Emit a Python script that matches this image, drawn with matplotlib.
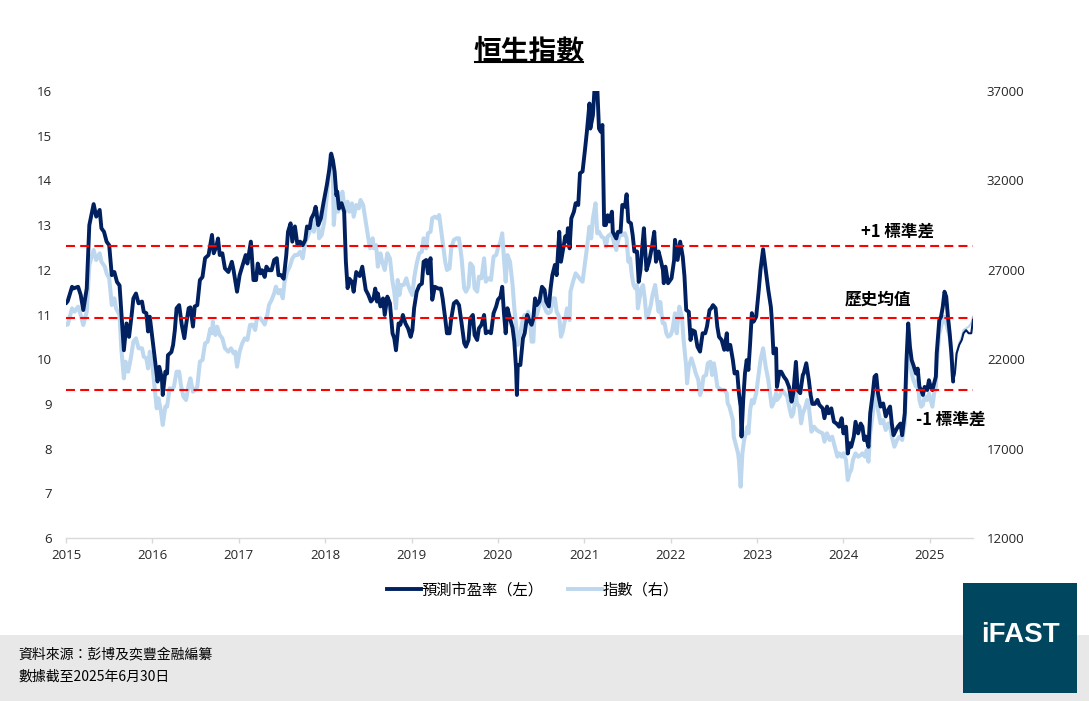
import numpy as np
import matplotlib
matplotlib.use("Agg")
import matplotlib.pyplot as plt
from matplotlib.lines import Line2D
from matplotlib.patches import Rectangle

# ---------------- data ----------------
title = "恒生指數"
pe_label = "預測市盈率（左）"
idx_label = "指數（右）"
source_text = "資料來源：彭博及奕豐金融編纂"
date_text = "數據截至2025年6月30日"
band_labels = ["+1 標準差", "歷史均值", "-1 標準差"]
band_levels = [12.53, 10.93, 9.32]

year_ticks = list(range(2015, 2026))
left_ticks = list(range(6, 17))
right_ticks = [12000, 17000, 22000, 27000, 32000, 37000]

# years elapsed since start of 2015
pe_t = [0.00, 0.02, 0.07, 0.08, 0.14, 0.17, 0.20, 0.24, 0.27, 0.32, 0.35, 0.39, 0.41, 0.44, 0.47, 0.50,
        0.53, 0.56, 0.59, 0.62, 0.64, 0.67, 0.70, 0.73, 0.76, 0.78, 0.81, 0.84, 0.88, 0.90, 0.93, 0.95,
        0.97, 1.00, 1.04, 1.06, 1.08, 1.11, 1.12, 1.15, 1.17, 1.18, 1.22, 1.24, 1.26, 1.28, 1.31, 1.34,
        1.37, 1.39, 1.42, 1.44, 1.47, 1.49, 1.52, 1.55, 1.58, 1.61, 1.65, 1.69, 1.71, 1.74, 1.76, 1.78,
        1.81, 1.84, 1.88, 1.92, 1.94, 1.98, 2.01, 2.05, 2.08, 2.10, 2.14, 2.17, 2.20, 2.22, 2.25, 2.27,
        2.30, 2.32, 2.35, 2.38, 2.41, 2.44, 2.46, 2.49, 2.52, 2.55, 2.57, 2.60, 2.62, 2.65, 2.68, 2.71,
        2.74, 2.77, 2.79, 2.82, 2.84, 2.87, 2.89, 2.92, 2.95, 2.98, 3.02, 3.05, 3.07, 3.09, 3.11, 3.13,
        3.14, 3.16, 3.19, 3.22, 3.24, 3.26, 3.28, 3.31, 3.33, 3.36, 3.40, 3.43, 3.46, 3.47, 3.50, 3.53,
        3.56, 3.58, 3.60, 3.61, 3.64, 3.67, 3.69, 3.72, 3.75, 3.78, 3.80, 3.82, 3.85, 3.87, 3.90, 3.93,
        3.96, 3.99, 4.01, 4.03, 4.06, 4.09, 4.12, 4.14, 4.17, 4.19, 4.22, 4.24, 4.27, 4.31, 4.34, 4.36,
        4.39, 4.41, 4.44, 4.46, 4.49, 4.52, 4.55, 4.58, 4.61, 4.63, 4.66, 4.68, 4.71, 4.73, 4.76, 4.78,
        4.81, 4.84, 4.86, 4.89, 4.92, 4.95, 4.98, 5.00, 5.03, 5.05, 5.07, 5.09, 5.11, 5.14, 5.17, 5.19,
        5.21, 5.22, 5.23, 5.26, 5.29, 5.31, 5.34, 5.36, 5.39, 5.41, 5.43, 5.45, 5.48, 5.51, 5.54, 5.56,
        5.59, 5.61, 5.63, 5.66, 5.68, 5.71, 5.73, 5.75, 5.78, 5.80, 5.81, 5.83, 5.85, 5.88, 5.90, 5.93,
        5.95, 5.98, 6.01, 6.03, 6.06, 6.07, 6.10, 6.12, 6.15, 6.17, 6.19, 6.21, 6.23, 6.25, 6.27, 6.29,
        6.32, 6.33, 6.37, 6.39, 6.42, 6.44, 6.47, 6.49, 6.51, 6.54, 6.56, 6.58, 6.61, 6.63, 6.65, 6.67,
        6.69, 6.72, 6.75, 6.78, 6.81, 6.83, 6.86, 6.88, 6.91, 6.92, 6.94, 6.97, 7.01, 7.04, 7.05, 7.08,
        7.11, 7.14, 7.16, 7.18, 7.21, 7.23, 7.25, 7.28, 7.31, 7.34, 7.37, 7.40, 7.42, 7.45, 7.47, 7.49,
        7.52, 7.54, 7.56, 7.59, 7.62, 7.65, 7.66, 7.69, 7.72, 7.74, 7.77, 7.79, 7.81, 7.82, 7.84, 7.86,
        7.88, 7.90, 7.92, 7.94, 7.96, 7.99, 8.02, 8.04, 8.07, 8.10, 8.13, 8.16, 8.17, 8.19, 8.22, 8.23,
        8.26, 8.28, 8.31, 8.34, 8.37, 8.40, 8.42, 8.45, 8.47, 8.50, 8.53, 8.54, 8.57, 8.60, 8.62, 8.64,
        8.67, 8.70, 8.72, 8.76, 8.78, 8.81, 8.83, 8.86, 8.89, 8.92, 8.95, 8.98, 9.00, 9.03, 9.05, 9.07,
        9.09, 9.12, 9.14, 9.17, 9.20, 9.22, 9.24, 9.26, 9.29, 9.31, 9.34, 9.36, 9.38, 9.40, 9.43, 9.46,
        9.49, 9.52, 9.54, 9.56, 9.58, 9.61, 9.63, 9.66, 9.68, 9.71, 9.73, 9.75, 9.77, 9.79, 9.81, 9.84,
        9.86, 9.88, 9.90, 9.92, 9.94, 9.97, 9.99, 10.01, 10.03, 10.05, 10.07, 10.08, 10.11, 10.13, 10.15,
        10.17, 10.19, 10.21, 10.23, 10.25, 10.27, 10.29, 10.31, 10.34, 10.37, 10.39, 10.42, 10.45, 10.48,
        10.50]
pe_values = [11.25, 11.30, 11.62, 11.58, 11.62, 11.44, 11.10, 11.58, 13.00, 13.47, 13.19, 13.34, 12.93, 12.85, 12.63, 12.55,
             11.88, 11.95, 11.73, 11.65, 11.06, 10.20, 10.80, 10.50, 10.99, 11.36, 11.47, 11.25, 11.29, 11.06, 11.03, 10.62,
             10.95, 10.47, 9.83, 9.50, 9.83, 9.57, 9.20, 9.72, 9.68, 10.09, 10.16, 10.32, 10.65, 11.14, 11.21, 10.77,
             10.47, 10.77, 11.14, 11.16, 10.73, 11.18, 11.21, 11.77, 11.84, 12.26, 12.33, 12.78, 12.37, 12.52, 12.70, 12.33,
             12.37, 12.03, 11.95, 12.18, 11.99, 11.51, 11.88, 12.14, 12.33, 12.14, 12.63, 11.77, 11.77, 12.14, 11.92, 11.99,
             11.84, 12.07, 11.99, 11.99, 12.22, 12.26, 11.88, 11.88, 11.80, 12.33, 12.85, 13.04, 12.63, 12.97, 12.55, 12.63,
             12.55, 12.67, 12.97, 12.93, 13.15, 13.26, 13.41, 13.00, 13.15, 13.49, 13.90, 14.27, 14.60, 14.45, 14.19, 13.67,
             13.75, 13.37, 13.49, 13.30, 12.18, 11.59, 11.80, 11.73, 11.51, 11.95, 11.86, 12.07, 11.69, 11.55, 11.44, 11.29,
             11.36, 11.58, 11.29, 11.47, 11.18, 11.36, 10.99, 11.40, 11.25, 10.58, 10.47, 10.20, 10.80, 10.77, 10.99, 10.80,
             10.69, 10.50, 10.65, 11.14, 11.51, 11.65, 11.69, 12.18, 12.22, 11.92, 12.26, 11.33, 11.62, 11.58, 11.58, 11.36,
             10.91, 10.58, 10.58, 10.91, 11.25, 11.30, 11.21, 10.80, 10.36, 10.28, 10.43, 10.91, 10.99, 10.54, 10.43, 10.69,
             10.77, 10.99, 10.58, 10.62, 10.58, 11.03, 11.18, 11.33, 11.40, 11.62, 11.03, 10.58, 11.14, 10.91, 10.70, 10.39,
             9.80, 9.20, 9.87, 9.87, 10.47, 10.58, 10.99, 10.88, 10.77, 10.91, 11.36, 11.21, 11.29, 11.62, 11.55, 11.29,
             11.18, 11.58, 11.88, 12.11, 11.88, 12.85, 12.18, 12.41, 12.75, 12.63, 12.93, 12.48, 13.15, 13.30, 13.49, 13.45,
             14.16, 14.20, 14.72, 15.09, 15.72, 15.16, 15.46, 16.10, 16.10, 15.16, 15.09, 15.24, 13.00, 13.00, 13.22, 13.08,
             13.30, 12.85, 12.70, 12.85, 12.85, 13.45, 13.41, 13.69, 13.08, 13.04, 12.78, 12.41, 12.41, 11.73, 11.99, 12.48,
             12.93, 11.99, 12.18, 12.48, 12.85, 12.18, 12.41, 12.26, 12.00, 11.70, 12.07, 11.70, 11.81, 12.22, 12.67, 12.22,
             12.63, 12.29, 11.85, 11.10, 11.06, 10.43, 10.65, 10.62, 10.28, 10.17, 10.58, 10.58, 10.73, 11.10, 11.14, 11.21,
             11.14, 10.73, 10.50, 10.43, 10.21, 10.58, 10.21, 10.32, 9.98, 9.68, 9.72, 9.24, 8.94, 8.27, 9.09, 9.68,
             9.98, 9.76, 10.36, 11.03, 10.84, 10.95, 11.55, 12.00, 12.46, 12.00, 11.55, 11.17, 10.91, 10.13, 10.24, 9.38,
             9.72, 9.72, 9.61, 9.53, 9.38, 9.05, 9.24, 9.94, 9.31, 9.24, 9.65, 9.68, 9.91, 9.53, 9.20, 9.00,
             9.00, 9.09, 8.98, 8.90, 8.68, 8.94, 8.79, 8.90, 8.60, 8.56, 8.49, 8.68, 8.34, 8.49, 7.89, 8.12,
             8.04, 8.27, 8.60, 8.34, 8.56, 8.49, 8.19, 8.27, 8.04, 8.79, 9.24, 9.61, 9.65, 9.24, 8.94, 9.01,
             8.72, 8.87, 8.94, 8.56, 8.30, 8.42, 8.49, 8.56, 8.30, 8.79, 9.98, 10.80, 10.28, 9.98, 9.87, 9.68,
             9.79, 9.38, 9.31, 9.20, 9.38, 9.31, 9.53, 9.38, 9.31, 9.46, 9.61, 10.13, 10.88, 10.95, 11.17,
             11.51, 11.40, 10.95, 10.58, 10.13, 9.50, 9.68, 10.13, 10.32, 10.43, 10.58, 10.65, 10.58, 10.58,
             10.88]

idx_t = [0.00, 0.02, 0.07, 0.10, 0.14, 0.17, 0.20, 0.24, 0.27, 0.32, 0.35, 0.39, 0.41, 0.45, 0.47, 0.50,
         0.53, 0.56, 0.58, 0.62, 0.64, 0.67, 0.69, 0.72, 0.75, 0.78, 0.81, 0.84, 0.88, 0.90, 0.93, 0.95,
         0.97, 1.00, 1.03, 1.05, 1.07, 1.10, 1.12, 1.15, 1.17, 1.20, 1.22, 1.25, 1.28, 1.31, 1.33, 1.36,
         1.39, 1.42, 1.44, 1.47, 1.49, 1.52, 1.55, 1.58, 1.61, 1.64, 1.67, 1.69, 1.70, 1.71, 1.73, 1.75,
         1.78, 1.81, 1.84, 1.88, 1.91, 1.94, 1.96, 1.98, 2.01, 2.04, 2.07, 2.10, 2.13, 2.16, 2.19, 2.21,
         2.25, 2.28, 2.30, 2.33, 2.35, 2.38, 2.41, 2.43, 2.46, 2.48, 2.51, 2.53, 2.56, 2.59, 2.62, 2.65,
         2.68, 2.71, 2.74, 2.77, 2.79, 2.82, 2.84, 2.87, 2.89, 2.91, 2.93, 2.96, 2.99, 3.02, 3.05, 3.06,
         3.09, 3.10, 3.13, 3.15, 3.18, 3.20, 3.23, 3.26, 3.28, 3.31, 3.33, 3.36, 3.39, 3.41, 3.44, 3.47,
         3.50, 3.52, 3.55, 3.56, 3.59, 3.61, 3.64, 3.66, 3.69, 3.72, 3.75, 3.78, 3.80, 3.82, 3.84, 3.86,
         3.88, 3.91, 3.94, 3.96, 3.99, 4.01, 4.03, 4.06, 4.09, 4.12, 4.14, 4.17, 4.19, 4.22, 4.24, 4.27,
         4.30, 4.32, 4.34, 4.36, 4.39, 4.41, 4.44, 4.46, 4.49, 4.52, 4.55, 4.58, 4.61, 4.63, 4.66, 4.68,
         4.71, 4.73, 4.76, 4.78, 4.81, 4.84, 4.86, 4.89, 4.92, 4.95, 4.98, 5.00, 5.03, 5.05, 5.07, 5.09,
         5.11, 5.14, 5.17, 5.19, 5.21, 5.23, 5.25, 5.26, 5.29, 5.31, 5.33, 5.35, 5.37, 5.39, 5.41, 5.43,
         5.45, 5.48, 5.51, 5.53, 5.56, 5.58, 5.61, 5.64, 5.66, 5.68, 5.71, 5.73, 5.75, 5.78, 5.80, 5.83,
         5.84, 5.87, 5.90, 5.93, 5.96, 5.98, 6.01, 6.03, 6.06, 6.08, 6.10, 6.13, 6.15, 6.17, 6.20, 6.23,
         6.25, 6.27, 6.29, 6.32, 6.34, 6.37, 6.39, 6.42, 6.44, 6.47, 6.49, 6.51, 6.53, 6.55, 6.57, 6.59,
         6.61, 6.62, 6.64, 6.66, 6.68, 6.70, 6.72, 6.74, 6.77, 6.79, 6.82, 6.84, 6.86, 6.88, 6.90, 6.91,
         6.93, 6.95, 6.97, 7.00, 7.02, 7.05, 7.07, 7.10, 7.13, 7.15, 7.18, 7.19, 7.21, 7.24, 7.27, 7.29,
         7.32, 7.34, 7.36, 7.38, 7.41, 7.43, 7.46, 7.48, 7.50, 7.52, 7.54, 7.56, 7.59, 7.62, 7.65, 7.66,
         7.68, 7.72, 7.73, 7.75, 7.78, 7.79, 7.81, 7.83, 7.85, 7.87, 7.89, 7.90, 7.92, 7.94, 7.96, 7.99,
         8.02, 8.04, 8.07, 8.10, 8.13, 8.15, 8.17, 8.19, 8.22, 8.23, 8.26, 8.29, 8.32, 8.35, 8.38, 8.40,
         8.42, 8.45, 8.46, 8.49, 8.51, 8.53, 8.56, 8.58, 8.60, 8.63, 8.66, 8.69, 8.72, 8.76, 8.78, 8.81,
         8.84, 8.87, 8.90, 8.93, 8.95, 8.98, 9.00, 9.03, 9.05, 9.07, 9.09, 9.11, 9.14, 9.17, 9.20, 9.22,
         9.25, 9.27, 9.29, 9.31, 9.34, 9.36, 9.38, 9.40, 9.43, 9.46, 9.49, 9.52, 9.54, 9.57, 9.59, 9.62,
         9.65, 9.68, 9.71, 9.73, 9.75, 9.77, 9.79, 9.81, 9.84, 9.86, 9.88, 9.90, 9.92, 9.94, 9.97, 9.99,
         10.01, 10.03, 10.05, 10.07, 10.08, 10.11, 10.13, 10.15, 10.17, 10.19, 10.21, 10.23, 10.25, 10.27,
         10.29, 10.31, 10.34, 10.37, 10.39, 10.42, 10.45, 10.48, 10.50]
idx_values = [23912, 23940, 24844, 24657, 24937, 24472, 23912, 24657, 27268, 28107, 27548, 27921, 27454, 27175, 26803, 26524,
              25031, 25404, 24844, 24472, 22609, 20931, 21860, 21301, 22049, 22980, 23167, 22609, 22609, 22142, 22049, 21488,
              22420, 21675, 20185, 19253, 19812, 19066, 18320, 19346, 19346, 20372, 20278, 20465, 21301, 21301, 20557, 19904,
              19719, 20557, 20931, 20185, 20278, 20465, 21860, 21954, 22886, 22980, 23700, 23448, 24098, 23727, 23353, 23819,
              23353, 23167, 22609, 22420, 22609, 22329, 22420, 21581, 22420, 22886, 23167, 23074, 23912, 23940, 23633, 24285,
              24285, 24098, 23940, 24472, 25031, 25311, 25684, 26057, 25684, 25870, 25404, 26335, 26894, 27175, 27642, 27828,
              27828, 28013, 27642, 28573, 28762, 29130, 29506, 29130, 29880, 30249, 28762, 28946, 29690, 31183, 32677, 33420,
              32302, 29506, 31368, 30249, 30999, 31368, 30249, 30808, 30249, 30716, 29970, 30624, 30435, 30904, 30624, 29690,
              28762, 28202, 28762, 28202, 28387, 27175, 27921, 27454, 26989, 27921, 27642, 26335, 25777, 24844, 26429, 25591,
              26150, 26150, 26524, 26150, 25777, 25591, 26524, 27361, 27921, 28013, 28762, 28202, 29040, 29130, 29880, 29970,
              29880, 30065, 29319, 28573, 27454, 26989, 27082, 28202, 28669, 28762, 28762, 27642, 25965, 25777, 26057, 27361,
              27175, 25965, 25777, 26614, 26524, 27642, 26335, 26524, 26429, 27735, 27828, 28202, 28573, 29040, 27642, 26335,
              27828, 27454, 26150, 24844, 23912, 22794, 23448, 23448, 24285, 24472, 24285, 24657, 24285, 22980, 22980, 25217,
              24472, 25031, 25777, 25031, 24657, 24565, 24657, 25404, 25404, 24657, 24378, 23261, 23541, 24285, 24844, 24192,
              25777, 26335, 26803, 26614, 26429, 26335, 27454, 28202, 29410, 28762, 29880, 30719, 29040, 29130, 28855, 28762,
              28295, 28855, 28946, 29040, 28573, 28107, 28573, 29130, 28946, 29040, 28762, 27454, 27642, 26709, 26150, 25965,
              26150, 24844, 25404, 25965, 26150, 25404, 24285, 24472, 25031, 25591, 26150, 25404, 24657, 25200, 24240, 24004,
              24004, 23448, 23258, 23353, 23633, 24567, 23448, 24937, 24377, 23074, 21581, 20652, 21581, 22049, 21581, 21211,
              20836, 19997, 20278, 21022, 21116, 21770, 21860, 21116, 21770, 21211, 20462, 20372, 20278, 20278, 20092, 19533,
              19346, 18600, 17666, 17296, 16737, 16362, 14869, 16737, 17481, 17855, 18225, 17855, 19158, 19718, 19533, 20092,
              21211, 21955, 22609, 21581, 20836, 20092, 19346, 19533, 20092, 19718, 19904, 20278, 20092, 19904, 19158, 18785,
              18971, 20092, 19533, 19346, 18414, 18971, 19346, 19718, 19346, 17948, 18225, 18040, 17948, 17855, 17386, 17855,
              17481, 17666, 17106, 16547, 16737, 16547, 16737, 16362, 15244, 15618, 15803, 16362, 16737, 16547, 16640, 16737,
              16547, 16921, 16268, 17855, 18974, 19904, 20092, 19158, 18414, 18600, 18040, 18414, 18225, 17481, 17106, 17481,
              17666, 17481, 18414, 21211, 22700, 21955, 21211, 20836, 20462, 20836, 19718, 19346, 19440, 19904, 19718, 20092,
              19718, 19346, 20092, 20462, 21770, 23448, 23819, 24192, 24377, 24007, 23633, 23258, 22328, 20836,
              21211, 22328, 22887, 23258, 23633, 23726, 23819, 24007, 24377]

# ---------------- style ----------------
DARK = "#002060"
LIGHT = "#BDD7EE"
RED = "#FF0000"
TICK_COL = "#262626"
CJK = ["Noto Sans CJK TC", "DejaVu Sans"]
NUM = ["Open Sans", "DejaVu Sans"]

W, H = 1089, 701
fig = plt.figure(figsize=(W / 100, H / 100), dpi=100)
fig.patch.set_facecolor("white")

def fx(px):
    return px / W

def fy(py):
    return 1 - py / H

ax_l, ax_r, ax_t, ax_b = 66, 973, 91, 538
ax = fig.add_axes([fx(ax_l), fy(ax_b), fx(ax_r - ax_l), (ax_b - ax_t) / H])
ax2 = ax.twinx()

pe_x = 2015 + np.array(pe_t)
pe_y = np.array(pe_values)
ix_x = 2015 + np.array(idx_t)
ix_y = np.array(idx_values)

split = 10.27
pm = np.array(pe_t) <= split + 1e-9
im = np.array(idx_t) <= split + 1e-9
pk = np.array(pe_t) >= split - 1e-9
ik = np.array(idx_t) >= split - 1e-9

# index (right axis)
ax2.plot(ix_x[im], ix_y[im], color=LIGHT, lw=2.9, solid_joinstyle="round", solid_capstyle="round")
ax2.plot(ix_x[ik], ix_y[ik], color=LIGHT, lw=1.5, solid_joinstyle="round")
# PE (left axis)
ax.plot(pe_x[pm], pe_y[pm], color=DARK, lw=2.8, solid_joinstyle="round", solid_capstyle="round", zorder=3)
ax.plot(pe_x[pk], pe_y[pk], color=DARK, lw=1.5, solid_joinstyle="round", zorder=3)

for lvl in band_levels:
    ax.axhline(lvl, color=RED, lw=1.5, linestyle=(0, (4.3, 2.5)), zorder=4)

ax.set_zorder(ax2.get_zorder() + 1)
ax.patch.set_visible(False)

ax.set_xlim(2015, 2025.5)
ax.set_ylim(6, 16)
ax2.set_ylim(12000, 37000)

ax.set_xticks(year_ticks)
ax.set_xticklabels([str(y) for y in year_ticks])
ax.set_yticks(left_ticks)
ax.set_yticklabels([str(v) for v in left_ticks])
ax2.set_yticks(right_ticks)
ax2.set_yticklabels([str(v) for v in right_ticks])

for a in (ax, ax2):
    for s in a.spines.values():
        s.set_visible(False)
ax.spines["bottom"].set_visible(True)
ax.spines["bottom"].set_color("#D9D9D9")
ax.spines["bottom"].set_linewidth(1.0)

ax.tick_params(axis="x", direction="out", length=3.6, width=1.0, color="#D9D9D9",
               pad=4, labelsize=9.5, labelcolor=TICK_COL)
ax.tick_params(axis="y", length=0, pad=10, labelsize=9.5, labelcolor=TICK_COL)
ax2.tick_params(axis="y", length=0, pad=10, labelsize=9.5, labelcolor=TICK_COL)
for lab in ax.get_xticklabels() + ax.get_yticklabels() + ax2.get_yticklabels():
    lab.set_family(NUM)

# band annotations
ann_pos = [(898, 232), (878, 300), (951, 420)]
for txt, (px, py) in zip(band_labels, ann_pos):
    fig.text(fx(px), fy(py), txt, ha="center", va="center", fontsize=12,
             fontweight="bold", family=CJK, color="black")

# title with underline
t = fig.text(fx(529), fy(59.5), title, ha="center", va="baseline", fontsize=20,
             fontweight="bold", family=CJK, color="black")
fig.canvas.draw()
bb = t.get_window_extent()
fig.add_artist(Line2D([bb.x0 / W + 0.001, bb.x1 / W - 0.001], [fy(62), fy(62)],
                      transform=fig.transFigure, color="black", lw=1.5))

# legend
handles = [Line2D([0], [0], color=DARK, lw=2.8), Line2D([0], [0], color=LIGHT, lw=2.8)]
leg = fig.legend(handles, [pe_label, idx_label], loc="center", bbox_to_anchor=(fx(533), fy(590)),
                 ncol=2, frameon=False, handlelength=2.2, handletextpad=0.05, columnspacing=1.6,
                 prop={"family": CJK, "size": 11})
for txt in leg.get_texts():
    txt.set_color("black")

# footer band
fig.add_artist(Rectangle((0, 0), 1, fy(635), transform=fig.transFigure,
                         facecolor="#E8E8E8", edgecolor="none", zorder=0))
fig.text(fx(18), fy(655), source_text, ha="left", va="center", fontsize=10, family=CJK, color="black")
fig.text(fx(18), fy(677), date_text, ha="left", va="center", fontsize=10, family=CJK, color="black")

# logo
fig.add_artist(Rectangle((fx(963), fy(693)), fx(1077 - 963), (693 - 583) / H,
                         transform=fig.transFigure, facecolor="#00465F", edgecolor="none", zorder=2))
fig.text(fx(1020), fy(635), "iFAST", ha="center", va="center", fontsize=20, fontweight="bold",
         family=["Liberation Sans", "DejaVu Sans"], color="white", zorder=3)

fig.savefig("out.png", dpi=100, facecolor="white")
